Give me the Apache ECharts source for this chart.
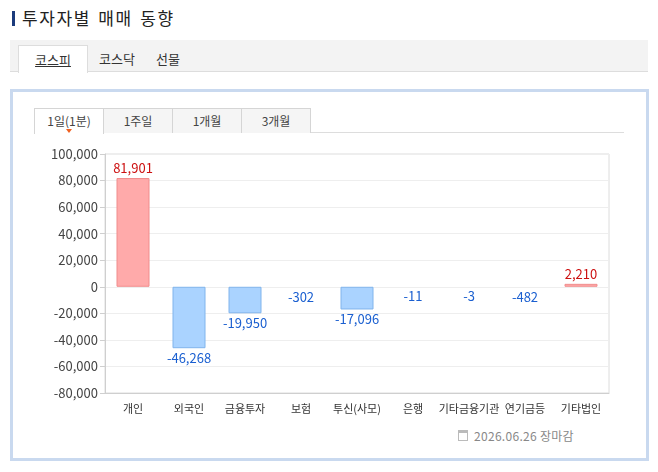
<!DOCTYPE html>
<html>
<head>
<meta charset="utf-8">
<script src="https://cdn.jsdelivr.net/npm/echarts@6/dist/echarts.min.js"></script>
<style>
  html, body { margin: 0; padding: 0; background: #fff; }
  body { width: 658px; height: 472px; position: relative; overflow: hidden;
         font-family: "Noto Sans CJK KR", "Noto Sans", sans-serif; color: #333; }
  .abs { position: absolute; }
  .title-bar { left: 12px; top: 11px; width: 3px; height: 15px; background: #1b3b7c; }
  .title { left: 22px; top: 5px; font-size: 17px; letter-spacing: 1.6px; word-spacing: 2px;
           color: #222; line-height: 26px; }
  .tabbar { left: 10px; top: 40px; width: 638px; height: 32px; background: #f3f3f3;
            border-bottom: 1px solid #ddd; box-sizing: border-box; }
  .tab-on { left: 18px; top: 45px; width: 70px; height: 28px; background: #fff;
            border: 1px solid #ddd; border-bottom: none; box-sizing: border-box;
            text-align: center; font-size: 13px; line-height: 28px; }
  .tab-on span { text-decoration: underline; }
  .tab { top: 45px; font-size: 13px; line-height: 28px; color: #333; }
  .frame { left: 10px; top: 89px; width: 639px; height: 372px; border: 3px solid #c9d9ef;
           box-sizing: border-box; }
  .subline { left: 34px; top: 132px; width: 590px; height: 1px; background: #ddd; }
  .sub { top: 108px; width: 70px; height: 25px; box-sizing: border-box; border: 1px solid #d5d5d5;
         border-bottom: none; background: #f5f5f5; font-size: 12px; line-height: 24px;
         text-align: center; color: #444; }
  .sub.on { background: #fff; height: 26px; }
  .arrow { left: 66px; top: 129px; width: 0; height: 0; border-left: 3px solid transparent;
           border-right: 3px solid transparent; border-top: 4px solid #f06020; }
  .foot { left: 474px; top: 427px; font-size: 12px; color: #888; line-height: 18px; letter-spacing: 0.3px; }
  .icon { left: 458px; top: 430px; width: 10px; height: 11px; border: 1px solid #bbb;
          border-top-width: 3px; box-sizing: border-box; }
  #chart { left: 0; top: 0; width: 658px; height: 472px; }
</style>
</head>
<body>
<div class="abs title-bar"></div>
<div class="abs title">투자자별 매매 동향</div>
<div class="abs tabbar"></div>
<div class="abs tab-on"><span>코스피</span></div>
<div class="abs tab" style="left:99px">코스닥</div>
<div class="abs tab" style="left:156px">선물</div>
<div class="abs frame"></div>
<div class="abs subline"></div>
<div class="abs sub on" style="left:34px">1일(1분)</div>
<div class="abs sub" style="left:103px">1주일</div>
<div class="abs sub" style="left:172px">1개월</div>
<div class="abs sub" style="left:241px">3개월</div>
<div class="abs arrow"></div>
<div class="abs icon"></div>
<div class="abs foot">2026.06.26 장마감</div>
<div id="chart" class="abs"></div>
<script>
// 투자자 구분
var categories = ['개인', '외국인', '금융투자', '보험', '투신(사모)', '은행', '기타금융기관', '연기금등', '기타법인']
// 순매수 값 (그림에 표시된 그대로)
var netValues = [81901, -46268, -19950, -302, -17096, -11, -3, -482, 2210]
var yTicks = { min: -80000, max: 100000, step: 20000 }

function comma(v) {
  return String(v).replace(/\B(?=(\d{3})+(?!\d))/g, ',')
}

var chart = echarts.init(document.getElementById('chart'))

var barData = netValues.map(function (v) {
  var up = v >= 0
  // bars under one pixel tall are not visible in the original
  var tiny = Math.abs(v) < 1000
  return {
    value: v,
    itemStyle: {
      color: tiny ? 'rgba(0,0,0,0)' : (up ? '#ffaaaa' : '#aad3ff'),
      borderColor: up ? '#f08c8c' : '#80b4ec',
      borderWidth: tiny ? 0 : 1
    },
    label: {
      position: up ? 'top' : 'bottom',
      color: up ? '#cc1010' : '#1a5fd0'
    }
  }
})

chart.setOption({
  animation: false,
  textStyle: { fontFamily: '"Noto Sans CJK KR", "Noto Sans", sans-serif' },
  grid: {
    left: 105, top: 154, width: 504, height: 239,
    show: true, borderColor: '#dcdcdc', borderWidth: 1
  },
  xAxis: {
    type: 'category',
    data: categories,
    axisLine: { onZero: false, lineStyle: { color: '#cfcfcf' } },
    axisTick: { alignWithLabel: true, length: 5, lineStyle: { color: '#cfcfcf' } },
    axisLabel: { color: '#333', fontSize: 11, margin: 10, interval: 0 }
  },
  yAxis: {
    type: 'value',
    min: yTicks.min,
    max: yTicks.max,
    interval: yTicks.step,
    axisLine: { show: true, lineStyle: { color: '#cfcfcf' } },
    axisTick: { show: true, length: 5, lineStyle: { color: '#cfcfcf' } },
    splitLine: { lineStyle: { color: '#eeeeee' } },
    axisLabel: { color: '#444', fontSize: 13, margin: 7, formatter: comma }
  },
  series: [{
    type: 'bar',
    data: barData,
    barWidth: 33,
    label: {
      show: true,
      fontSize: 13,
      distance: 3,
      formatter: function (p) { return comma(p.value) }
    }
  }]
})
</script>
</body>
</html>
